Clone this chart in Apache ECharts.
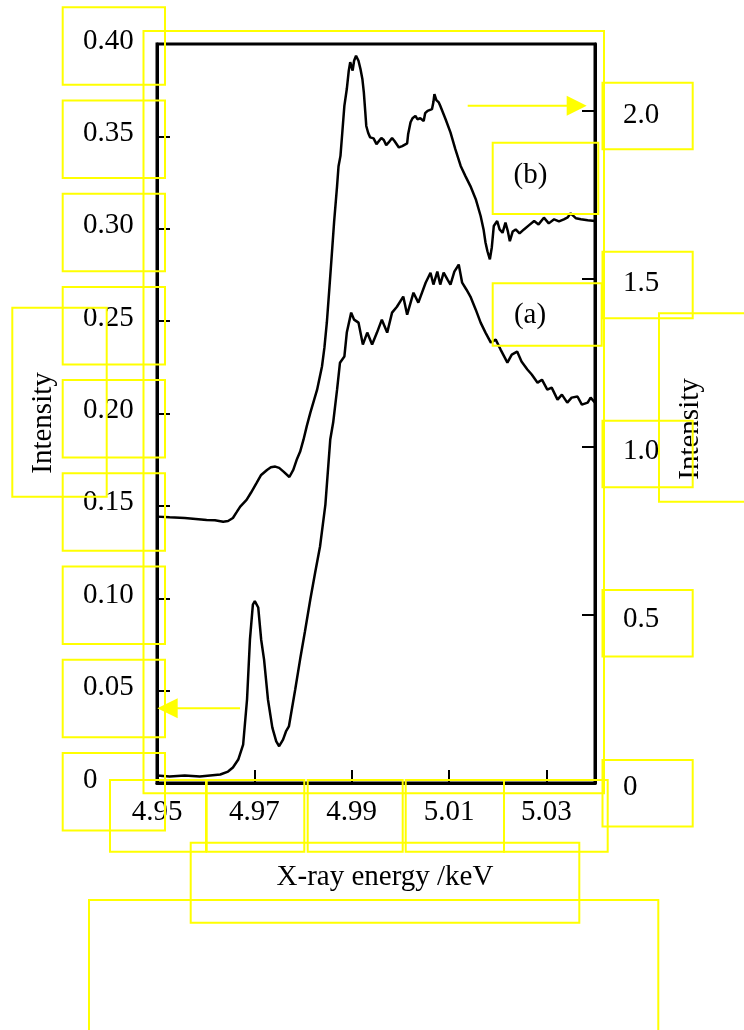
<!DOCTYPE html>
<html>
<head>
<meta charset="utf-8">
<script src="https://cdn.jsdelivr.net/npm/echarts@6/dist/echarts.min.js"></script>
<style>
html,body{margin:0;padding:0;background:#fff;}
#chart{width:744px;height:1030px;}
</style>
</head>
<body>
<div id="chart"></div>
<script>
// ---- data ----
var xTickLabels = ['4.95', '4.97', '4.99', '5.01', '5.03'];
var leftTickLabels = ['0', '0.05', '0.10', '0.15', '0.20', '0.25', '0.30', '0.35', '0.40'];
var rightTickLabels = ['0', '0.5', '1.0', '1.5', '2.0'];
var xTitle = 'X-ray energy /keV';
var yTitle = 'Intensity';
var seriesNames = ['(a)', '(b)'];

// curve (a): left axis
var aEnergy = [4.9500,4.9526,4.9557,4.9588,4.9609,4.9630,4.9646,4.9656,4.9667,4.9677,4.9685,4.9691,4.9697,4.9701,4.9708,4.9714,4.9720,4.9728,4.9737,4.9745,4.9751,4.9759,4.9765,4.9771,4.9784,4.9794,4.9804,4.9815,4.9825,4.9835,4.9846,4.9856,4.9862,4.9870,4.9876,4.9885,4.9890,4.9899,4.9905,4.9914,4.9923,4.9932,4.9942,4.9952,4.9962,4.9973,4.9983,4.9993,5.0006,5.0014,5.0027,5.0037,5.0052,5.0062,5.0068,5.0076,5.0082,5.0089,5.0097,5.0103,5.0111,5.0120,5.0127,5.0136,5.0144,5.0155,5.0165,5.0175,5.0186,5.0196,5.0206,5.0220,5.0229,5.0240,5.0249,5.0261,5.0270,5.0282,5.0291,5.0302,5.0311,5.0323,5.0332,5.0343,5.0352,5.0364,5.0373,5.0385,5.0391,5.0400];
var aIntensity = [0.0041,0.0035,0.0041,0.0035,0.0041,0.0046,0.0062,0.0084,0.0127,0.0208,0.0452,0.0777,0.0966,0.0984,0.0950,0.0777,0.0668,0.0452,0.0300,0.0225,0.0199,0.0235,0.0279,0.0306,0.0506,0.0668,0.0820,0.0993,0.1139,0.1280,0.1507,0.1859,0.1951,0.2129,0.2275,0.2308,0.2438,0.2546,0.2508,0.2492,0.2373,0.2438,0.2373,0.2438,0.2508,0.2438,0.2546,0.2578,0.2633,0.2535,0.2654,0.2600,0.2708,0.2762,0.2698,0.2768,0.2698,0.2762,0.2725,0.2698,0.2768,0.2806,0.2708,0.2670,0.2633,0.2562,0.2492,0.2438,0.2384,0.2400,0.2346,0.2275,0.2319,0.2335,0.2281,0.2238,0.2211,0.2167,0.2183,0.2129,0.2140,0.2075,0.2102,0.2059,0.2086,0.2092,0.2048,0.2059,0.2086,0.2059];

// curve (b): right axis
var bEnergy = [4.9500,4.9526,4.9557,4.9602,4.9619,4.9636,4.9646,4.9656,4.9664,4.9671,4.9684,4.9693,4.9705,4.9714,4.9726,4.9734,4.9743,4.9751,4.9760,4.9772,4.9780,4.9787,4.9794,4.9801,4.9808,4.9815,4.9829,4.9839,4.9844,4.9849,4.9854,4.9859,4.9864,4.9870,4.9873,4.9877,4.9881,4.9885,4.9890,4.9894,4.9897,4.9902,4.9905,4.9909,4.9914,4.9918,4.9922,4.9925,4.9928,4.9930,4.9934,4.9938,4.9945,4.9951,4.9955,4.9961,4.9966,4.9971,4.9976,4.9983,4.9988,4.9997,5.0004,5.0014,5.0016,5.0021,5.0025,5.0031,5.0035,5.0041,5.0048,5.0051,5.0056,5.0065,5.0068,5.0070,5.0074,5.0079,5.0082,5.0093,5.0103,5.0113,5.0124,5.0134,5.0144,5.0155,5.0165,5.0171,5.0175,5.0179,5.0184,5.0188,5.0192,5.0199,5.0204,5.0210,5.0216,5.0221,5.0225,5.0231,5.0237,5.0245,5.0254,5.0264,5.0275,5.0284,5.0295,5.0305,5.0316,5.0326,5.0336,5.0344,5.0350,5.0361,5.0371,5.0385,5.0400];
var bIntensity = [0.793,0.791,0.789,0.783,0.782,0.778,0.780,0.789,0.807,0.823,0.843,0.864,0.894,0.917,0.932,0.940,0.942,0.938,0.927,0.911,0.932,0.962,0.986,1.022,1.064,1.102,1.171,1.240,1.296,1.371,1.469,1.569,1.672,1.777,1.836,1.867,1.941,2.016,2.066,2.120,2.146,2.121,2.150,2.165,2.150,2.126,2.096,2.056,1.997,1.956,1.935,1.922,1.919,1.902,1.905,1.920,1.914,1.899,1.907,1.920,1.911,1.892,1.896,1.904,1.931,1.967,1.979,1.986,1.976,1.979,1.971,1.994,2.001,2.006,2.027,2.051,2.033,2.026,2.016,1.976,1.937,1.887,1.837,1.806,1.777,1.738,1.688,1.648,1.609,1.583,1.559,1.595,1.658,1.673,1.648,1.638,1.668,1.642,1.613,1.642,1.648,1.636,1.648,1.660,1.673,1.663,1.683,1.666,1.678,1.672,1.678,1.684,1.696,1.681,1.678,1.675,1.673];

// ---- build ----
function pairs(xs, ys) { return xs.map(function (x, i) { return [x, ys[i]]; }); }
function tickFormatter(list) {
  return function (v) {
    for (var i = 0; i < list.length; i++) {
      if (Math.abs(parseFloat(list[i]) - v) < 1e-6) return list[i];
    }
    return '';
  };
}

var FONT = 'Liberation Serif';
var YEL = '#ffff00';
var boxStyle = { stroke: YEL, fill: 'none', lineWidth: 2 };

var boxes = [];
var leftTops = [7.3, 100.5, 193.7, 286.9, 380.1, 473.3, 566.5, 659.7, 752.9];
leftTops.forEach(function (t) { boxes.push([62.7, t, 102.3, 77.5]); });
[82.7, 251.7, 420.7, 590, 760].forEach(function (t) { boxes.push([602.5, t, 90.2, 66.5]); });
[[110, 96], [206.7, 97.6], [307.7, 95], [405.7, 98.3], [504, 103.7]].forEach(function (b) { boxes.push([b[0], 780, b[1], 71.7]); });
boxes.push([12.3, 307.7, 94.4, 189]);
boxes.push([143.5, 31, 460.5, 762.3]);
boxes.push([659, 313.3, 100, 188.4]);
boxes.push([492.7, 142.7, 105.6, 71.3]);
boxes.push([492.7, 283.3, 109, 62.4]);
boxes.push([190.7, 842.7, 388.6, 80]);
boxes.push([89, 900, 569.3, 160]);

var graphics = boxes.map(function (b) {
  return { type: 'rect', z: 100, silent: true, shape: { x: b[0], y: b[1], width: b[2], height: b[3] }, style: boxStyle };
});
// arrows
graphics.push({ type: 'line', z: 100, shape: { x1: 240, y1: 708.3, x2: 177, y2: 708.3 }, style: { stroke: YEL, lineWidth: 2 } });
graphics.push({ type: 'polygon', z: 100, shape: { points: [[157.3, 708.3], [177.7, 698.3], [177.7, 718.3]] }, style: { fill: YEL } });
graphics.push({ type: 'line', z: 100, shape: { x1: 467.7, y1: 105.7, x2: 567, y2: 105.7 }, style: { stroke: YEL, lineWidth: 2 } });
graphics.push({ type: 'polygon', z: 100, shape: { points: [[586.7, 105.7], [566.7, 95.7], [566.7, 115.7]] }, style: { fill: YEL } });
// texts
function txt(s, x, y, rot) {
  return { type: 'text', z: 50, x: x, y: y, rotation: rot || 0,
    style: { text: s, font: '29px "' + FONT + '"', fill: '#000', textAlign: 'center', textVerticalAlign: 'middle' } };
}
graphics.push(txt(xTitle, 385, 877));
graphics.push(txt(yTitle, 43, 423, Math.PI / 2));
graphics.push(txt(yTitle, 690, 429, Math.PI / 2));
graphics.push(txt(seriesNames[1], 530.5, 175));
graphics.push(txt(seriesNames[0], 530, 315));

var axisLineStyle = { show: true, lineStyle: { color: '#000', width: 3 } };
var tickStyle = { show: true, inside: true, length: 13, lineStyle: { color: '#000', width: 2 } };
var labelBase = { color: '#000', fontFamily: FONT, fontSize: 29 };

var option = {
  animation: false,
  backgroundColor: '#fff',
  grid: { left: 157, right: 149, top: 44, bottom: 247, show: true, borderColor: '#000', borderWidth: 3, backgroundColor: 'transparent' },
  xAxis: {
    type: 'value', min: 4.95, max: 5.04, interval: 0.02,
    axisLine: axisLineStyle, axisTick: tickStyle, splitLine: { show: false },
    axisLabel: Object.assign({ margin: 15, showMaxLabel: false, formatter: tickFormatter(xTickLabels) }, labelBase)
  },
  yAxis: [
    {
      type: 'value', min: 0, max: 0.4, interval: 0.05, position: 'left',
      axisLine: axisLineStyle, axisTick: tickStyle, splitLine: { show: false },
      axisLabel: Object.assign({ margin: 74, align: 'left', verticalAlign: 'bottom', lineHeight: 6, formatter: tickFormatter(leftTickLabels) }, labelBase)
    },
    {
      type: 'value', min: 0, max: 2.2, interval: 0.5, position: 'right',
      axisLine: axisLineStyle, axisTick: tickStyle, splitLine: { show: false },
      axisLabel: Object.assign({ margin: 28, align: 'left', verticalAlign: 'top', lineHeight: 9, showMaxLabel: false, formatter: tickFormatter(rightTickLabels) }, labelBase)
    }
  ],
  series: [
    { name: seriesNames[0], type: 'line', yAxisIndex: 0, data: pairs(aEnergy, aIntensity), showSymbol: false, symbol: 'none', lineStyle: { color: '#000', width: 2.5 }, z: 3 },
    { name: seriesNames[1], type: 'line', yAxisIndex: 1, data: pairs(bEnergy, bIntensity), showSymbol: false, symbol: 'none', lineStyle: { color: '#000', width: 2.5 }, z: 3 }
  ],
  graphic: graphics
};

var chart = echarts.init(document.getElementById('chart'), null, { renderer: 'canvas' });
chart.setOption(option);
</script>
</body>
</html>
